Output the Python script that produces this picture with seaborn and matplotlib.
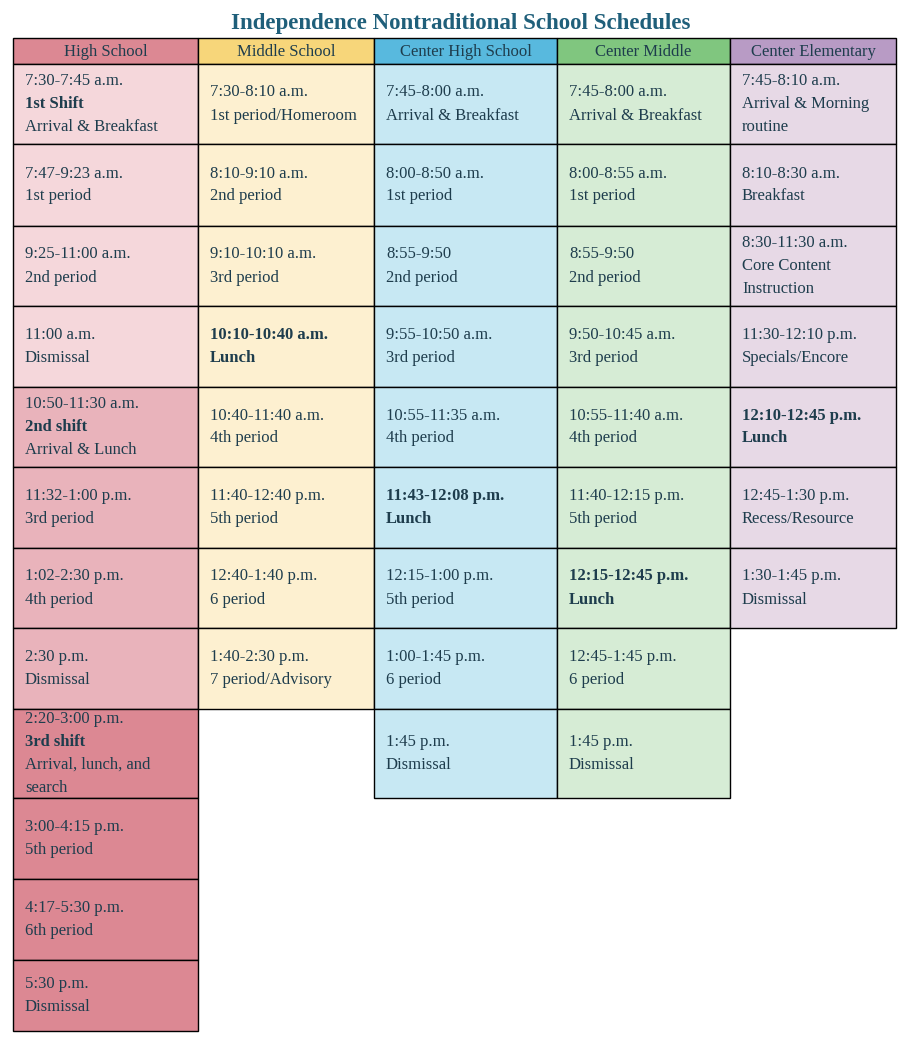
import matplotlib
matplotlib.use("Agg")
import matplotlib.pyplot as plt
import seaborn as sns

sns.set_theme(style="white", font="Liberation Serif")

title = "Independence Nontraditional School Schedules"
schools = ["High School", "Middle School", "Center High School", "Center Middle", "Center Elementary"]

# "*" marks a bold line
high_school = [
    ["7:30-7:45 a.m.", "*1st Shift", "Arrival & Breakfast"],
    ["7:47-9:23 a.m.", "1st period"],
    ["9:25-11:00 a.m.", "2nd period"],
    ["11:00 a.m.", "Dismissal"],
    ["10:50-11:30 a.m.", "*2nd shift", "Arrival & Lunch"],
    ["11:32-1:00 p.m.", "3rd period"],
    ["1:02-2:30 p.m.", "4th period"],
    ["2:30 p.m.", "Dismissal"],
    ["2:20-3:00 p.m.", "*3rd shift", "Arrival, lunch, and", "search"],
    ["3:00-4:15 p.m.", "5th period"],
    ["4:17-5:30 p.m.", "6th period"],
    ["5:30 p.m.", "Dismissal"],
]
middle_school = [
    ["7:30-8:10 a.m.", "1st period/Homeroom"],
    ["8:10-9:10 a.m.", "2nd period"],
    ["9:10-10:10 a.m.", "3rd period"],
    ["*10:10-10:40 a.m.", "*Lunch"],
    ["10:40-11:40 a.m.", "4th period"],
    ["11:40-12:40 p.m.", "5th period"],
    ["12:40-1:40 p.m.", "6 period"],
    ["1:40-2:30 p.m.", "7 period/Advisory"],
]
center_high = [
    ["7:45-8:00 a.m.", "Arrival & Breakfast"],
    ["8:00-8:50 a.m.", "1st period"],
    ["8:55-9:50", "2nd period"],
    ["9:55-10:50 a.m.", "3rd period"],
    ["10:55-11:35 a.m.", "4th period"],
    ["*11:43-12:08 p.m.", "*Lunch"],
    ["12:15-1:00 p.m.", "5th period"],
    ["1:00-1:45 p.m.", "6 period"],
    ["1:45 p.m.", "Dismissal"],
]
center_middle = [
    ["7:45-8:00 a.m.", "Arrival & Breakfast"],
    ["8:00-8:55 a.m.", "1st period"],
    ["8:55-9:50", "2nd period"],
    ["9:50-10:45 a.m.", "3rd period"],
    ["10:55-11:40 a.m.", "4th period"],
    ["11:40-12:15 p.m.", "5th period"],
    ["*12:15-12:45 p.m.", "*Lunch"],
    ["12:45-1:45 p.m.", "6 period"],
    ["1:45 p.m.", "Dismissal"],
]
center_elem = [
    ["7:45-8:10 a.m.", "Arrival & Morning", "routine"],
    ["8:10-8:30 a.m.", "Breakfast"],
    ["8:30-11:30 a.m.", "Core Content", "Instruction"],
    ["11:30-12:10 p.m.", "Specials/Encore"],
    ["*12:10-12:45 p.m.", "*Lunch"],
    ["12:45-1:30 p.m.", "Recess/Resource"],
    ["1:30-1:45 p.m.", "Dismissal"],
]
columns = [high_school, middle_school, center_high, center_middle, center_elem]

header_colors = ["#dc8893", "#f7d67a", "#58b9de", "#80c67f", "#b89bc5"]
body_colors = ["#f5d7db", "#fdf0d0", "#c7e8f3", "#d6ecd5", "#e7d9e6"]
hs_shift_colors = ["#f5d7db"] * 4 + ["#e9b3bb"] * 4 + ["#dc8893"] * 4

col_edges = [13, 198, 374, 557, 730, 896]
row_edges = [64, 144, 226, 306, 387, 467, 548, 628, 709, 798, 879, 960, 1031]
header_top = 38
text_color = "#1e3d4d"

fig = plt.figure(figsize=(9.13, 10.41), dpi=100)
ax = fig.add_axes([0, 0, 1, 1])
ax.set_xlim(0, 913)
ax.set_ylim(1041, 0)
ax.axis("off")

ax.text(461, 24, title, ha="center", va="center", fontsize=16.5,
        fontweight="bold", color="#1f5f7a")

for c, (name, cells) in enumerate(zip(schools, columns)):
    x0, x1 = col_edges[c], col_edges[c + 1]
    ax.add_patch(plt.Rectangle((x0, header_top), x1 - x0, row_edges[0] - header_top,
                               facecolor=header_colors[c], edgecolor="black", lw=1))
    ax.text((x0 + x1) / 2, (header_top + row_edges[0]) / 2 + 1, name,
            ha="center", va="center", fontsize=12, color=text_color)
    for r, lines in enumerate(cells):
        y0, y1 = row_edges[r], row_edges[r + 1]
        fc = hs_shift_colors[r] if c == 0 else body_colors[c]
        ax.add_patch(plt.Rectangle((x0, y0), x1 - x0, y1 - y0,
                                   facecolor=fc, edgecolor="black", lw=1))
        mid = (y0 + y1) / 2
        start = mid - (len(lines) - 1) * 23 / 2
        for i, line in enumerate(lines):
            bold = line.startswith("*")
            ax.text(x0 + 12, start + i * 23, line.lstrip("*"), ha="left", va="center",
                    fontsize=12, color=text_color,
                    fontweight="bold" if bold else "normal")

fig.savefig("out.png", dpi=100)
